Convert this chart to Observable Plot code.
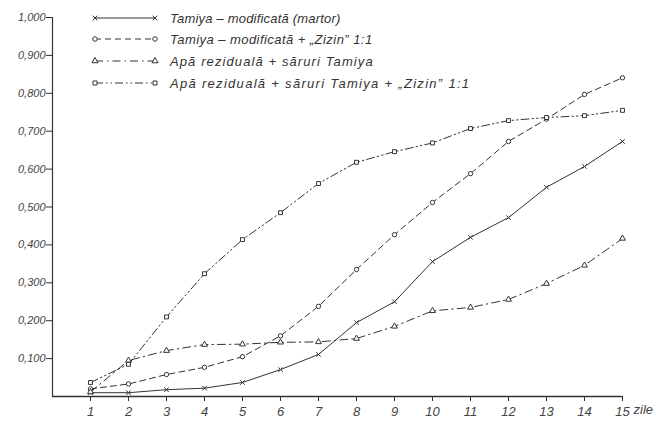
<!DOCTYPE html>
<html><head><meta charset="utf-8">
<script src="https://cdn.jsdelivr.net/npm/d3@7"></script>
<script src="https://cdn.jsdelivr.net/npm/@observablehq/plot@0.6"></script>
<style>
body{margin:0;background:#fff}
#wrap{position:relative;width:656px;height:422px}
#legend{position:absolute;left:0;top:0;pointer-events:none}
</style>
</head><body><div id="wrap"></div>
<script>
// ---- data ----
const days = [1,2,3,4,5,6,7,8,9,10,11,12,13,14,15];
const martor   = [0.010,0.010,0.018,0.022,0.037,0.071,0.111,0.195,0.250,0.356,0.420,0.472,0.552,0.607,0.673];
const zizin    = [0.020,0.033,0.058,0.077,0.105,0.160,0.238,0.335,0.427,0.512,0.588,0.673,0.732,0.797,0.841];
const apa      = [0.012,0.095,0.121,0.137,0.138,0.143,0.144,0.153,0.185,0.226,0.235,0.256,0.298,0.346,0.417];
const apaZizin = [0.037,0.085,0.210,0.324,0.414,0.485,0.562,0.618,0.646,0.669,0.707,0.728,0.736,0.741,0.755];
const seriesNames = [
  "Tamiya – modificată (martor)",
  "Tamiya – modificată + „Zizin” 1:1",
  "Apă reziduală + săruri  Tamiya",
  "Apă reziduală + săruri  Tamiya + „Zizin” 1:1"
];
const yTicks = [0.1,0.2,0.3,0.4,0.5,0.6,0.7,0.8,0.9,1.0];
const xTicks = [1,2,3,4,5,6,7,8,9,10,11,12,13,14,15];
const xUnit = "zile";

// ---- styles per series ----
const ink = "#333";
const dashes = [null, "6,4", "8,4,1.5,4", "8,3,1.5,3,1.5,3"];
const symbols = ["times", "circle", "triangle", "square"];
const allValues = [martor, zizin, apa, apaZizin];
const tables = allValues.map((vals, i) => days.map((d, j) => ({day: d, value: vals[j], series: seriesNames[i]})));

const lineMarks = tables.flatMap((t, i) => [
  Plot.line(t, {x: "day", y: "value", stroke: ink, strokeWidth: 1, strokeDasharray: dashes[i] ?? undefined}),
  Plot.dot(t, {x: "day", y: "value", symbol: symbols[i], r: 2.2, stroke: ink, strokeWidth: 1, fill: symbols[i] === "times" ? "none" : "white"})
]);

const chart = Plot.plot({
  width: 656, height: 422,
  marginLeft: 52, marginRight: 34, marginTop: 17, marginBottom: 26,
  x: {domain: [0, 15]},
  y: {domain: [0, 1]},
  style: {fontFamily: "Liberation Sans, sans-serif", fontStyle: "italic", fontSize: "12px", color: "#444", background: "transparent"},
  marks: [
    Plot.axisY(yTicks, {tickSize: 6, tickPadding: 1, stroke: ink, fill: "#444", fontSize: 11, tickFormat: d => d.toFixed(3).replace(".", ","), label: null}),
    Plot.axisX(xTicks, {tickSize: 5, tickPadding: 5, stroke: ink, fill: "#444", fontSize: 13, tickFormat: d => String(d), label: null}),
    Plot.ruleX([0], {stroke: ink, strokeWidth: 1.2}),
    Plot.ruleY([0], {stroke: ink, strokeWidth: 1.5}),
    Plot.text([xUnit], {frameAnchor: "bottom-right", dx: 11, dy: 17, textAnchor: "start", fontSize: 13, fill: "#444", text: d => d}),
    ...lineMarks
  ]
});
const wrap = document.getElementById("wrap");
wrap.appendChild(chart);

// ---- legend overlay ----
const svg = d3.select(wrap).append("svg").attr("id", "legend").attr("width", 656).attr("height", 100);
const rowsY = [18, 39, 61, 83];
const spacing = [0.2, 0.45, 1.1, 1.3];
const x0 = 95, x1 = 155, tx = 170;
const symMap = {times: d3.symbolTimes, circle: d3.symbolCircle, triangle: d3.symbolTriangle, square: d3.symbolSquare};
seriesNames.forEach((name, i) => {
  const y = rowsY[i];
  const g = svg.append("g");
  g.append("line").attr("x1", x0).attr("x2", x1).attr("y1", y).attr("y2", y)
    .attr("stroke", ink).attr("stroke-width", 1).attr("stroke-dasharray", dashes[i]);
  [x0, x1].forEach(x => {
    g.append("path").attr("d", d3.symbol(symMap[symbols[i]], 16)())
      .attr("transform", `translate(${x},${y})`)
      .attr("stroke", ink).attr("stroke-width", 1)
      .attr("fill", symbols[i] === "times" ? "none" : "white");
  });
  g.append("text").attr("x", tx).attr("y", y).attr("dy", "0.35em")
    .attr("font-family", "Liberation Sans, sans-serif").attr("font-style", "italic")
    .attr("font-size", 13).attr("fill", "#333").attr("letter-spacing", spacing[i])
    .text(name);
});
</script>
</body></html>
